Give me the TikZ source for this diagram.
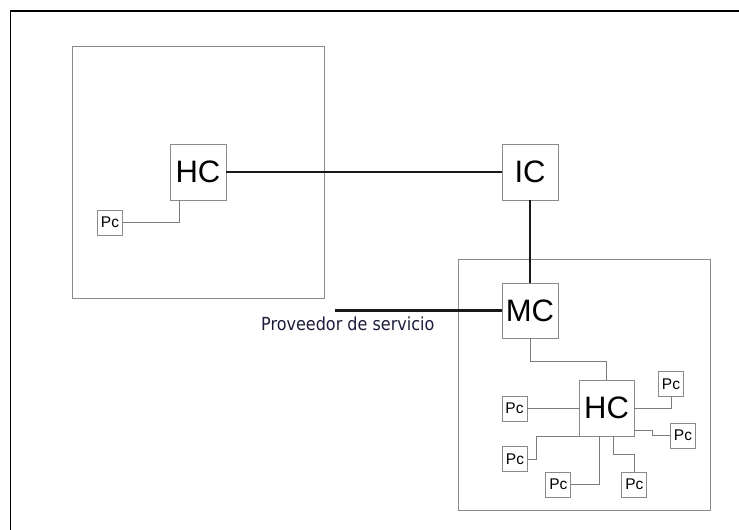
\documentclass[tikz,border=0pt]{standalone}
\usepackage{fontspec}
\usepackage{graphicx}
\setmainfont{Liberation Sans}
\newfontfamily\provfont{DejaVu Sans}
\definecolor{boxgray}{HTML}{8A8A8A}
\definecolor{linegray}{HTML}{7C7C7C}
\definecolor{navy}{HTML}{1C1C3A}
\begin{document}
\begin{tikzpicture}[x=1pt,y=-1pt,
  bignode/.style={draw=boxgray,line width=0.9pt,fill=white,inner sep=0pt,minimum width=56pt,minimum height=56pt,font=\fontsize{31}{31}\selectfont},
  pcnode/.style={draw=boxgray,line width=0.9pt,fill=white,inner sep=0pt,minimum width=25pt,minimum height=25pt,font=\fontsize{15.5}{15.5}\selectfont},
  area/.style={draw=boxgray,line width=0.9pt},
  thin link/.style={draw=linegray,line width=0.9pt},
  thick link/.style={draw=black!90,line width=2.2pt}]
\useasboundingbox (0,0) rectangle (739,530);
\fill[white] (0,0) rectangle (739,530);
% outer frame (left and top edges)
\draw[black,line width=1.2pt] (739,11) -- (10.5,11) -- (10.5,530);
% areas
\draw[area] (72,46) rectangle (324,298);
\draw[area] (458.5,259) rectangle (710.7,510);
% nodes
\node[bignode] (HC1) at (198,172) {HC};
\node[bignode] (IC) at (530,172) {IC};
\node[bignode,minimum height=55pt] (MC) at (530,310.5) {MC};
\node[bignode,minimum width=55pt] (HC2) at (606.5,408) {HC};
\node[pcnode] (Pc1) at (110,222.5) {Pc};
\node[pcnode] (PcL) at (514.5,408.5) {Pc};
\node[pcnode] (PcTR) at (671,384) {Pc};
\node[pcnode] (PcR) at (683,435.5) {Pc};
\node[pcnode] (PcBL) at (515,459.3) {Pc};
\node[pcnode] (PcBM) at (558.3,484.7) {Pc};
\node[pcnode] (PcBR) at (634.3,484.7) {Pc};
\coordinate (prov) at (334.6,310.5);
\node[anchor=base west,inner sep=0pt,text=navy,font=\provfont\fontsize{18}{18}\selectfont] (provtext) at (261,330) {\scalebox{0.89}[1]{Proveedor de servicio}};
% thick links
\draw[thick link] (HC1.east) -- (IC.west);
\draw[thick link] (IC.south) -- (MC.north);
\draw[thick link] (prov) -- (MC.west);
% thin links
\draw[thin link] (Pc1.east) -| ([xshift=-19pt]HC1.south);
\draw[thin link] (MC.south) -- ++(0,22.5) -| (HC2.north);
\draw[thin link] (PcL.east) -- (PcL.east -| HC2.west);
\draw[thin link] (HC2.east) -| (PcTR.south);
\draw[thin link] ([yshift=-22pt]HC2.east) -- ++(17.5,0) |- (PcR.west);
\draw[thin link] (PcBL.east) -- ++(8.5,0) |- (HC2.south west);
\draw[thin link] (PcBM.east) -| ([xshift=-7pt]HC2.south);
\draw[thin link] ([xshift=7pt]HC2.south) -- ++(0,18) -| (PcBR.north);
\end{tikzpicture}
\end{document}
